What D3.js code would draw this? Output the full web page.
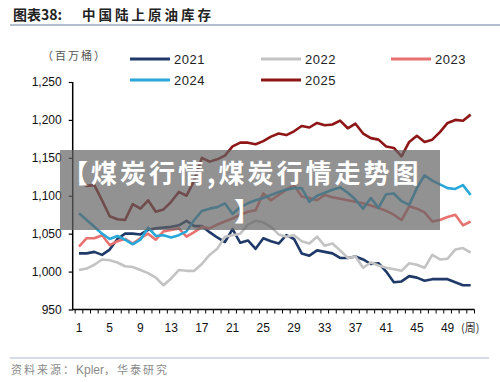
<!DOCTYPE html>
<html><head><meta charset="utf-8">
<script src="https://cdn.jsdelivr.net/npm/d3@7"></script>
<style>
html,body{margin:0;padding:0;background:#fff;}
svg{display:block;}
</style></head>
<body>
<svg id="chart" width="500" height="382"></svg>
<script>
const weeks = d3.range(1, 53);
const xTickLabels = [1,5,9,13,17,21,25,29,33,37,41,45,49];
const yTickValues = [950,1000,1050,1100,1150,1200,1250];
const seriesNames = ["2021","2022","2023","2024","2025"];
const s2021 = [1024,1024,1026,1022,1029,1043,1050,1050,1049,1055,1057,1058,1059,1061,1067,1060,1060,1052,1045,1039,1056,1038,1041,1030,1044,1040,1037,1048,1043,1024,1021,1028,1026,1024,1018,1018,1020,1016,1010,1011,1000,986,987,994,992,988,990,990,990,986,982,982];
const s2022 = [1002,1004,1009,1016,1015,1012,1007,1006,1002,998,992,982,991,1002,1001,1001,1010,1022,1030,1046,1048,1050,1062,1067,1065,1059,1049,1046,1048,1040,1037,1046,1034,1037,1028,1018,1020,1005,1012,1008,1005,1003,1001,1011,1009,1005,1022,1016,1017,1029,1031,1025];
const s2023 = [1033,1044,1044,1048,1035,1040,1043,1037,1044,1050,1042,1053,1055,1057,1046,1052,1059,1057,1062,1066,1070,1075,1079,1081,1103,1094,1101,1108,1114,1099,1097,1094,1101,1098,1096,1094,1092,1090,1087,1084,1080,1075,1068,1086,1083,1078,1066,1068,1072,1075,1061,1066];
const s2024 = [1077,1068,1059,1050,1043,1047,1042,1036,1042,1058,1047,1048,1045,1048,1053,1068,1080,1083,1085,1090,1076,1085,1090,1094,1097,1101,1105,1108,1110,1110,1092,1100,1104,1108,1111,1104,1095,1083,1097,1084,1102,1103,1093,1088,1110,1127,1120,1115,1110,1109,1114,1101];
const s2025 = [1117,1113,1114,1094,1073,1069,1068,1089,1083,1094,1079,1082,1092,1105,1100,1120,1150,1145,1148,1153,1165,1170,1170,1168,1172,1178,1182,1180,1185,1192,1190,1196,1193,1194,1199,1189,1195,1182,1176,1174,1165,1163,1152,1171,1179,1171,1174,1184,1196,1200,1199,1207];
const seriesValues = [s2021, s2022, s2023, s2024, s2025];
const colors = ["#1f3a68","#c3c3c3","#e8726f","#27a8d8","#8e1616"];

const svg = d3.select("#chart");
const cjk = "'Noto Sans CJK SC','Noto Sans',sans-serif";
const lat = "'Liberation Sans',Arial,sans-serif";

// title
svg.append("text").attr("x",13).attr("y",20).attr("font-family",cjk).attr("font-size",14).attr("font-weight","bold").attr("fill","#222").text("图表38:");
svg.append("text").attr("x",82).attr("y",20).attr("font-family",cjk).attr("font-size",13.5).attr("font-weight","bold").attr("fill","#222").attr("letter-spacing",3).text("中国陆上原油库存");
svg.append("line").attr("x1",10).attr("x2",500).attr("y1",25).attr("y2",25).attr("stroke","#9aaabb").attr("stroke-width",1.5);

// unit
svg.append("text").attr("x",42).attr("y",60).attr("font-family",cjk).attr("font-size",11).attr("fill","#555").attr("letter-spacing",2).text("（百万桶）");

const x = d3.scaleLinear().domain([1,49]).range([79,447.6]);
const y = d3.scaleLinear().domain([950,1250]).range([309.5,82]);

// axes
const yAxis = d3.axisLeft(y).tickValues(yTickValues).tickSize(4).tickFormat(d3.format(","));
const gy = svg.append("g").attr("transform","translate(72.7,0)").call(yAxis);
gy.select(".domain").attr("stroke","#000").attr("stroke-width",1.5).attr("d","M0,82V309.5");
gy.selectAll(".tick line").attr("stroke","#000").attr("stroke-width",1.2);
gy.selectAll(".tick text").attr("font-family",lat).attr("font-size",12).attr("fill","#111").attr("x",-11);

const tickPos = d3.range(0.5, 53, 1);
const gx = svg.append("g").attr("transform","translate(0,309.5)");
gx.append("line").attr("x1",72).attr("x2",x(52.5)).attr("stroke","#000").attr("stroke-width",1.5);
gx.selectAll("line.t").data(tickPos).join("line").attr("class","t")
  .attr("x1",d=>x(d)).attr("x2",d=>x(d)).attr("y1",0).attr("y2",4).attr("stroke","#000").attr("stroke-width",1);
gx.selectAll("text").data(xTickLabels).join("text")
  .attr("x",d=>x(d)).attr("y",22).attr("text-anchor","middle")
  .attr("font-family",lat).attr("font-size",12).attr("fill","#111").text(d=>d);
svg.append("text").attr("x",461).attr("y",332).attr("font-family",cjk).attr("font-size",11).attr("fill","#333").text("(周)");

// lines
const line = d3.line().x((d,i)=>x(weeks[i])).y(d=>y(d));
seriesValues.forEach((vals,i)=>{
  svg.append("path").datum(vals).attr("d",line).attr("fill","none")
    .attr("stroke",colors[i]).attr("stroke-width",2.6).attr("stroke-linejoin","round");
});

// legend
const legendPos = [[130,59],[261,59],[391,59],[130,80],[261,80]];
seriesNames.forEach((n,i)=>{
  const [lx,ly] = legendPos[i];
  svg.append("line").attr("x1",lx).attr("x2",lx+40).attr("y1",ly).attr("y2",ly).attr("stroke",colors[i]).attr("stroke-width",3);
  svg.append("text").attr("x",lx+44).attr("y",ly+4.5).attr("font-family",lat).attr("font-size",13).attr("fill","#222").attr("letter-spacing",0.5).text(n);
});

// footer
svg.append("line").attr("x1",10).attr("x2",489).attr("y1",358).attr("y2",358).attr("stroke","#a9bccc").attr("stroke-width",1.2);
const ft = svg.append("text").attr("x",11).attr("y",374).attr("font-size",11).attr("fill","#8a8a8a");
ft.append("tspan").attr("font-family",cjk).attr("letter-spacing",2).text("资料来源：");
ft.append("tspan").attr("font-family",lat).attr("font-size",12).text("Kpler");
ft.append("tspan").attr("font-family",cjk).attr("letter-spacing",2).text("，华泰研究");

// overlay banner
svg.append("rect").attr("x",60).attr("y",150).attr("width",380).attr("height",80).attr("fill","rgba(100,100,100,0.7)");
svg.append("text").attr("x",62).attr("y",183).attr("text-anchor","start").attr("font-family",cjk).attr("font-size",26).attr("font-weight","bold").attr("fill","#fff").attr("letter-spacing",3).text("【煤炭行情,煤炭行情走势图");
svg.append("text").attr("x",247).attr("y",221).attr("text-anchor","middle").attr("font-family",cjk).attr("font-size",26).attr("font-weight","bold").attr("fill","#fff").text("】");
</script>
</body></html>
